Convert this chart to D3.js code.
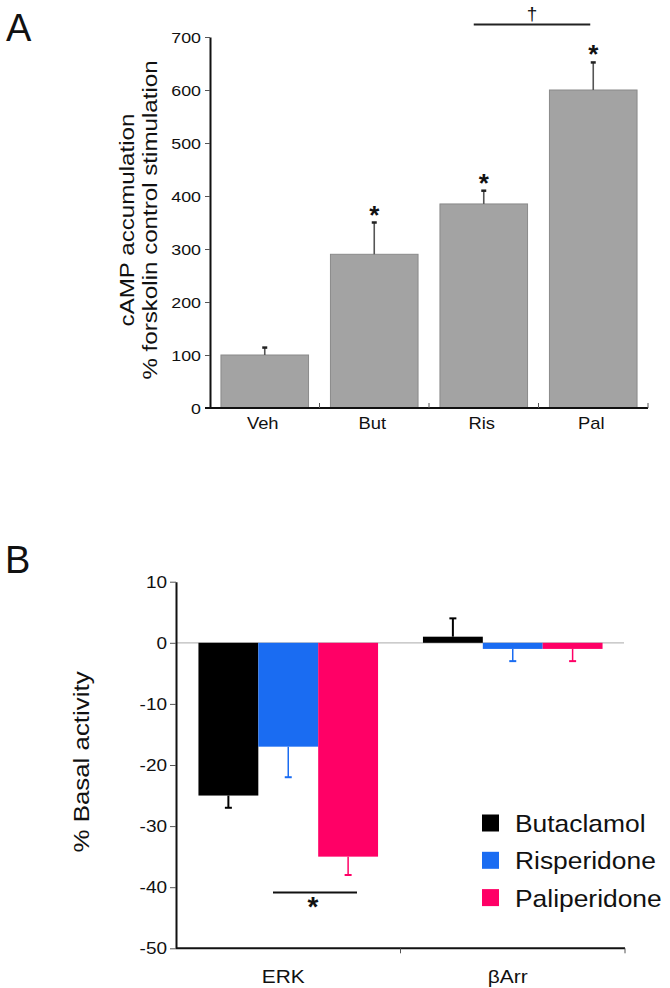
<!DOCTYPE html>
<html>
<head>
<meta charset="utf-8">
<script src="https://cdn.jsdelivr.net/npm/d3@7"></script>
<style>
  html, body { margin: 0; padding: 0; background: #fff; }
  svg { display: block; }
  text { font-family: "Liberation Sans", Arial, Helvetica, sans-serif; fill: #111; }
</style>
</head>
<body>
<svg id="chart" width="670" height="988"></svg>
<script>
// ---------- Panel A data ----------
const catsA = ["Veh", "But", "Ris", "Pal"];
const valuesA = [100, 290, 385, 600];
const errorsA = [14, 60, 25, 52];
const starsA = ["", "*", "*", "*"];
const ticksA = [0, 100, 200, 300, 400, 500, 600, 700];
const yLabelA = ["cAMP accumulation", "% forskolin control stimulation"];

// ---------- Panel B data ----------
const groupsB = ["ERK", "βArr"];
const seriesB = ["Butaclamol", "Risperidone", "Paliperidone"];
const colorsB = ["#000000", "#1a6cf2", "#ff0066"];
const valuesB_ERK = [-25, -17, -35];
const valuesB_Arr = [1, -1, -1];
const errorsB_ERK = [2, 5, 3];
const errorsB_Arr = [3, 2, 2];
const ticksB = [10, 0, -10, -20, -30, -40, -50];
const yLabelB = "% Basal activity";

const svg = d3.select("#chart");
const SX = 1.15; // horizontal stretch of the type in the reference

function label(g, x, y, str, size, anchor, rot, opts = {}) {
  const t = g.append("text")
    .attr("transform", `translate(${x},${y}) rotate(${rot || 0}) scale(${opts.sx || SX},1)`)
    .attr("text-anchor", anchor || "start")
    .attr("font-size", size)
    .text(str);
  if (opts.weight) t.attr("font-weight", opts.weight);
  if (opts.fill) t.style("fill", opts.fill);
  return t;
}

// ================= PANEL A =================
const gA = svg.append("g");
const xA = d3.scaleBand().domain(catsA).range([210, 648]).paddingInner(0.2).paddingOuter(0.1);
const yA = d3.scaleLinear().domain([0, 700]).range([408, 37]);

// bars
gA.selectAll("rect.bar").data(catsA).join("rect")
  .attr("x", d => xA(d))
  .attr("width", xA.bandwidth())
  .attr("y", (d, i) => yA(valuesA[i]))
  .attr("height", (d, i) => yA(0) - yA(valuesA[i]))
  .attr("fill", "#a3a3a3")
  .attr("stroke", "#8a8a8a")
  .attr("stroke-width", 1);

// error bars
catsA.forEach((c, i) => {
  const cx = xA(c) + xA.bandwidth() / 2;
  gA.append("line").attr("x1", cx).attr("x2", cx)
    .attr("y1", yA(valuesA[i])).attr("y2", yA(valuesA[i] + errorsA[i]))
    .attr("stroke", "#555").attr("stroke-width", 1.6);
  gA.append("line").attr("x1", cx - 2.5).attr("x2", cx + 2.5)
    .attr("y1", yA(valuesA[i] + errorsA[i])).attr("y2", yA(valuesA[i] + errorsA[i]))
    .attr("stroke", "#222").attr("stroke-width", 2.5);
  if (starsA[i]) {
    label(gA, cx, yA(valuesA[i] + errorsA[i]) + 1, starsA[i], 26, "middle", 0, { sx: 1, weight: "bold" });
  }
});

// y axis
const axA = d3.axisLeft(yA).tickValues(ticksA).tickSize(5).tickSizeOuter(0).tickFormat(d3.format("d"));
const gAxA = gA.append("g").attr("transform", "translate(210,0)").call(axA);
gAxA.select(".domain").attr("stroke", "#111").attr("stroke-width", 2);
gAxA.selectAll(".tick line").attr("stroke", "#555").attr("stroke-width", 1);
gAxA.selectAll(".tick text").remove();
ticksA.forEach(t => label(gA, 201, yA(t) + 5.5, String(t), 15.5, "end"));

// x axis
gA.append("line").attr("x1", 205).attr("x2", 648).attr("y1", 408).attr("y2", 408)
  .attr("stroke", "#111").attr("stroke-width", 2);
const stepA = xA.step();
d3.range(1, catsA.length + 1).forEach(k => {
  const x = 210 + stepA * k;
  gA.append("line").attr("x1", x).attr("x2", x).attr("y1", 408).attr("y2", 403)
    .attr("stroke", "#555").attr("stroke-width", 1);
});
catsA.forEach(c => label(gA, xA(c) + xA.bandwidth() / 2 - 2, 429, c, 16, "middle"));

// y label
label(gA, 134, 220, yLabelA[0], 21, "middle", -90, { sx: 1.15 });
label(gA, 157, 220, yLabelA[1], 21, "middle", -90, { sx: 1.15 });

// significance line between Ris and Pal
const risC = xA("Ris") + xA.bandwidth() / 2, palC = xA("Pal") + xA.bandwidth() / 2;
const sigX1 = risC - 10, sigX2 = palC - 3;
gA.append("line").attr("x1", sigX1).attr("x2", sigX2).attr("y1", 24.5).attr("y2", 24.5)
  .attr("stroke", "#222").attr("stroke-width", 2);
label(gA, (sigX1 + sigX2) / 2, 19.5, "†", 19, "middle", 0, { sx: 1 });

// panel letter
label(gA, 6, 41, "A", 38, "start", 0, { sx: 1.0 });

// ================= PANEL B =================
const gB = svg.append("g");
const x0B = d3.scaleBand().domain(groupsB).range([176, 625]).paddingInner(0.2).paddingOuter(0.1);
const x1B = d3.scaleBand().domain(seriesB).range([0, x0B.bandwidth()]);
const yB = d3.scaleLinear().domain([-50, 10]).range([948.3, 581.7]);
const colorB = d3.scaleOrdinal().domain(seriesB).range(colorsB);
const dataB = [
  { group: "ERK", values: valuesB_ERK, errors: errorsB_ERK },
  { group: "βArr", values: valuesB_Arr, errors: errorsB_Arr }
];

// zero line
gB.append("line").attr("x1", 176).attr("x2", 624).attr("y1", yB(0)).attr("y2", yB(0))
  .attr("stroke", "#bbb").attr("stroke-width", 1.2);

dataB.forEach(gd => {
  seriesB.forEach((s, i) => {
    const v = gd.values[i], e = gd.errors[i];
    const x = x0B(gd.group) + x1B(s);
    const col = colorB(s);
    gB.append("rect")
      .attr("x", x).attr("width", x1B.bandwidth())
      .attr("y", Math.min(yB(v), yB(0)))
      .attr("height", Math.abs(yB(v) - yB(0)))
      .attr("fill", col);
    const cx = x + x1B.bandwidth() / 2;
    const end = v >= 0 ? v + e : v - e;
    gB.append("line").attr("x1", cx).attr("x2", cx)
      .attr("y1", yB(v)).attr("y2", yB(end))
      .attr("stroke", col).attr("stroke-width", s === "Butaclamol" ? 2 : 1.5);
    gB.append("line").attr("x1", cx - 3.5).attr("x2", cx + 3.5)
      .attr("y1", yB(end)).attr("y2", yB(end))
      .attr("stroke", col).attr("stroke-width", 2);
  });
});

// y axis
const axB = d3.axisLeft(yB).tickValues(ticksB).tickSize(6).tickSizeOuter(0).tickFormat(d3.format("d"));
const gAxB = gB.append("g").attr("transform", "translate(176,0)").call(axB);
gAxB.select(".domain").attr("stroke", "#111").attr("stroke-width", 2);
gAxB.selectAll(".tick line").attr("stroke", "#555").attr("stroke-width", 1);
gAxB.selectAll(".tick text").remove();
ticksB.forEach(t => label(gB, 167, yB(t) + 6, String(t), 16.5, "end"));

// x axis
gB.append("line").attr("x1", 176).attr("x2", 625).attr("y1", yB(-50)).attr("y2", yB(-50))
  .attr("stroke", "#111").attr("stroke-width", 2);
[1, 2].forEach(k => {
  const x = 176 + x0B.step() * k;
  gB.append("line").attr("x1", x).attr("x2", x).attr("y1", yB(-50)).attr("y2", yB(-50) + 5)
    .attr("stroke", "#555").attr("stroke-width", 1);
});
groupsB.forEach(gname => label(gB, x0B(gname) + x0B.bandwidth() / 2 - 5, 983, gname, 19, "middle", 0, { sx: 1.1 }));

// y label
label(gB, 89, 762, yLabelB, 22.5, "middle", -90, { sx: 1.15 });

// significance line + star
gB.append("line").attr("x1", 273).attr("x2", 357).attr("y1", 892.5).attr("y2", 892.5)
  .attr("stroke", "#111").attr("stroke-width", 1.8);
label(gB, 313, 916, "*", 28, "middle", 0, { sx: 1, weight: "bold" });

// legend
const leg = gB.append("g");
seriesB.forEach((s, i) => {
  const cy = 823 + i * 37.3;
  leg.append("rect").attr("x", 482).attr("y", cy - 8.5).attr("width", 17).attr("height", 17)
    .attr("fill", colorB(s));
  label(leg, 515, cy + 9, s, 24, "start", 0, { sx: 1.1 });
});

// panel letter
label(gB, 5, 573, "B", 38, "start", 0, { sx: 1.0 });
</script>
</body>
</html>
